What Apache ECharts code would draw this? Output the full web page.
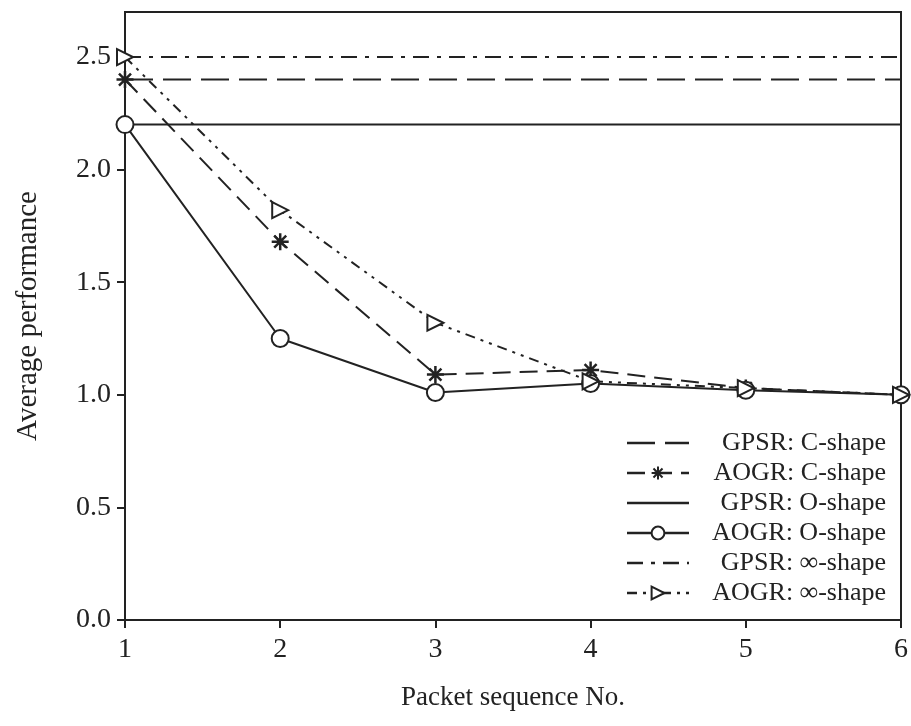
<!DOCTYPE html>
<html>
<head>
<meta charset="utf-8">
<script src="https://cdn.jsdelivr.net/npm/echarts@6/dist/echarts.min.js"></script>
<style>
  html, body { margin: 0; padding: 0; background: #fff; }
  #chart { width: 911px; height: 726px; }
</style>
</head>
<body>
<div id="chart"></div>
<script>
// data
const packetNo = [1, 2, 3, 4, 5, 6]
const gpsrC = [2.4, 2.4, 2.4, 2.4, 2.4, 2.4]
const aogrC = [2.4, 1.68, 1.09, 1.11, 1.03, 1.0]
const gpsrO = [2.2, 2.2, 2.2, 2.2, 2.2, 2.2]
const aogrO = [2.2, 1.25, 1.01, 1.05, 1.02, 1.0]
const gpsrInf = [2.5, 2.5, 2.5, 2.5, 2.5, 2.5]
const aogrInf = [2.5, 1.82, 1.32, 1.06, 1.03, 1.0]
const yTicks = [0, 0.5, 1.0, 1.5, 2.0, 2.5]
const seriesNames = ['GPSR: C-shape', 'AOGR: C-shape', 'GPSR: O-shape', 'AOGR: O-shape', 'GPSR: ∞-shape', 'AOGR: ∞-shape']

const ink = '#222'
const font = 'Liberation Serif'
const star = 'path://M0,-10L0,10M-10,0L10,0M-7.07,-7.07L7.07,7.07M-7.07,7.07L7.07,-7.07'

function pairs(vals) {
    return packetNo.map((x, i) => [x, vals[i]])
}

function line(name, vals, dash, symbol, extra) {
    return Object.assign({
        name: name,
        type: 'line',
        data: pairs(vals),
        symbol: symbol || 'none',
        showSymbol: !!symbol,
        lineStyle: { color: ink, width: 2, type: dash },
        itemStyle: { color: ink },
        z: 3,
        animation: false
    }, extra || {})
}

// legend entries: plain lines have no marker
const legendData = seriesNames.map((n) => {
    if (n.startsWith('GPSR')) return { name: n, itemStyle: { opacity: 0 } }
    return { name: n }
})

var chart = echarts.init(document.getElementById('chart'))
option = {
    backgroundColor: '#fff',
    grid: {
        left: 125, right: 7, top: 12, bottom: 106,
        show: true, borderColor: ink, borderWidth: 2
    },
    legend: {
        orient: 'vertical',
        right: 20,
        top: 425,
        itemGap: 4,
        itemWidth: 62,
        itemHeight: 16,
        formatter: (n) => '{t|' + n + '}',
        lineStyle: { width: 2.5 },
        textStyle: {
            rich: { t: { fontFamily: font, fontSize: 26, color: ink, width: 192, align: 'right', lineHeight: 25 } }
        },
        data: legendData
    },
    xAxis: {
        type: 'value',
        min: 1, max: 6, interval: 1,
        name: 'Packet sequence No.',
        nameLocation: 'middle',
        nameGap: 64,
        nameTextStyle: { fontFamily: font, fontSize: 27, color: ink },
        axisLine: { lineStyle: { color: ink, width: 2 } },
        axisTick: { inside: false, length: 8, lineStyle: { color: ink, width: 2 } },
        axisLabel: { fontFamily: font, fontSize: 28, color: ink, margin: 16 },
        splitLine: { show: false }
    },
    yAxis: {
        type: 'value',
        min: 0, max: 2.7,
        name: 'Average performance',
        nameLocation: 'middle',
        nameGap: 82,
        nameTextStyle: { fontFamily: font, fontSize: 29, color: ink },
        axisLine: { show: true, lineStyle: { color: ink, width: 2 } },
        axisTick: { show: true, length: 8, customValues: yTicks, lineStyle: { color: ink, width: 2 } },
        axisLabel: {
            fontFamily: font, fontSize: 28, color: ink, margin: 14,
            customValues: yTicks,
            formatter: (v) => v.toFixed(1)
        },
        splitLine: { show: false }
    },
    series: [
        line(seriesNames[0], gpsrC, [28, 10]),
        line(seriesNames[1], aogrC, [18, 9], star, {
            symbolSize: 17,
            itemStyle: { color: ink, borderColor: ink, borderWidth: 2.5 }
        }),
        line(seriesNames[2], gpsrO, 'solid'),
        line(seriesNames[3], aogrO, 'solid', 'circle', {
            symbolSize: 17,
            itemStyle: { color: '#fff', borderColor: ink, borderWidth: 2 }
        }),
        line(seriesNames[4], gpsrInf, [16, 8, 4, 8]),
        line(seriesNames[5], aogrInf, [10, 6, 3, 6, 3, 6], 'triangle', {
            symbolSize: 16,
            symbolRotate: -90,
            itemStyle: { color: '#fff', borderColor: ink, borderWidth: 2 }
        })
    ]
}
chart.setOption(option)
</script>
</body>
</html>
